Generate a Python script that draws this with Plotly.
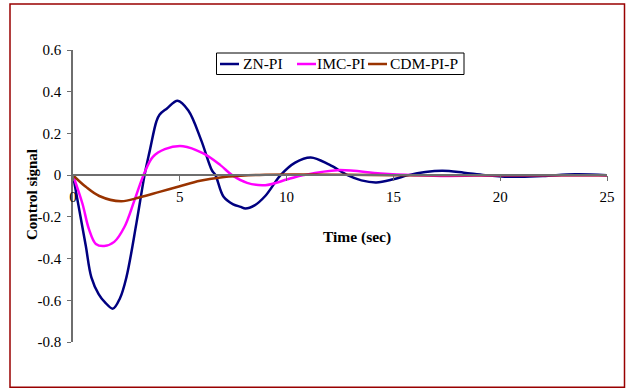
import plotly.graph_objects as go

# ---- data ----
zn_t = [0, 0.3, 0.6, 0.86, 1.2, 1.5, 1.87, 2.2, 2.5, 2.97, 3.35, 3.6, 3.9, 4.05, 4.4, 4.9, 5.4, 6.0, 6.5, 6.67,
        7.05, 7.5, 7.85, 8.07, 8.5, 9.0, 9.72, 10.4, 11.13, 12.0, 12.85, 13.5, 14.2, 15.0, 15.7, 16.5, 17.3,
        18.3, 19.3, 20.6, 22.0, 23.5, 25]
zn_v = [0, -0.17, -0.34, -0.49, -0.57, -0.61, -0.64, -0.59, -0.49, -0.23, 0.0, 0.12, 0.256, 0.29, 0.32, 0.357,
        0.31, 0.168, 0.024, 0.0, -0.104, -0.14, -0.152, -0.16, -0.145, -0.1, 0.0, 0.06, 0.085, 0.05, 0.0,
        -0.025, -0.035, -0.02, 0.0, 0.015, 0.021, 0.012, 0.0, -0.008, -0.004, 0.004, 0.0]

imc_t = [0, 0.44, 0.75, 1.07, 1.46, 1.93, 2.4, 2.88, 3.3, 3.74, 4.3, 5.15, 6.1, 6.9, 7.45, 8.15, 9.0, 10.05,
         10.8, 12.4, 14.4, 16.0, 17.5, 20.0, 25]
imc_v = [0, -0.136, -0.26, -0.33, -0.34, -0.32, -0.25, -0.12, 0.0, 0.088, 0.125, 0.139, 0.104, 0.048, 0.0,
         -0.037, -0.048, -0.02, 0.0, 0.024, 0.008, 0.0, -0.004, 0.0, 0.0]

cdm_t = [0, 0.6, 1.23, 2.25, 3.1, 4.05, 5.0, 5.95, 6.9, 7.85, 9.0, 10.5, 12.5, 15.0, 20.0, 25]
cdm_v = [0, -0.056, -0.1, -0.125, -0.107, -0.08, -0.053, -0.027, -0.011, -0.003, 0.002, 0.003, 0.002, 0.0,
         0.0, 0.0]

names = ["ZN-PI", "IMC-PI", "CDM-PI-P"]
colors = ["#000080", "#ff00ff", "#993300"]
x_ticks = [0, 5, 10, 15, 20, 25]
y_ticks = [-0.8, -0.6, -0.4, -0.2, 0, 0.2, 0.4, 0.6]
y_ticktext = ["-0.8", "-0.6", "-0.4", "-0.2", "0", "0.2", "0.4", "0.6"]

FONT = "Liberation Serif"

# plot-area geometry in pixels
ML, MR, MT, MB = 73, 19, 50, 47
W, H = 626, 389
PW, PH = W - ML - MR, H - MT - MB


def px(xp):
    return (xp - ML) / PW


def py(yp):
    return (H - MB - yp) / PH


fig = go.Figure()
for t, v, n, c in zip([zn_t, imc_t, cdm_t], [zn_v, imc_v, cdm_v], names, colors):
    fig.add_trace(go.Scatter(x=t, y=v, name=n, mode="lines", showlegend=False,
                             line=dict(color=c, width=2.5, shape="spline", smoothing=1.0)))

y0, y1 = -0.8, 0.6
fig.update_layout(
    width=W, height=H,
    margin=dict(l=ML, r=MR, t=MT, b=MB),
    paper_bgcolor="white", plot_bgcolor="white",
    font=dict(family=FONT, size=15, color="black"),
    showlegend=False,
    xaxis=dict(range=[0, 25], tickvals=x_ticks, showgrid=False, zeroline=False,
               showline=True, linecolor="#6e6e6e", linewidth=1.5,
               ticks="outside", ticklen=5, tickcolor="#6e6e6e", tickwidth=1,
               anchor="free", position=(0 - y0) / (y1 - y0),
               tickfont=dict(family=FONT, size=15), ticklabelstandoff=3),
    yaxis=dict(range=[y0, y1], tickvals=y_ticks, ticktext=y_ticktext, showgrid=False,
               zeroline=False, showline=True, linecolor="#6e6e6e", linewidth=1.5,
               ticks="outside", ticklen=4, tickcolor="#6e6e6e", tickwidth=1,
               tickfont=dict(family=FONT, size=15), ticklabelstandoff=3),
)

# axis titles
fig.add_annotation(text="<b>Control signal</b>", x=px(22), y=py(195), xref="paper", yref="paper",
                   textangle=-90, showarrow=False, font=dict(family=FONT, size=15, color="black"))
fig.add_annotation(text="<b>Time (sec)</b>", x=px(357), y=py(237), xref="paper", yref="paper",
                   showarrow=False, font=dict(family=FONT, size=15.5, color="black"))

# legend (drawn by hand to match the compact Excel legend)
fig.add_shape(type="rect", xref="paper", yref="paper",
              x0=px(216.5), x1=px(464), y0=py(74.5), y1=py(53),
              line=dict(color="black", width=1), fillcolor="white", layer="above")
sample_x = [220, 297, 368]
text_x = [241, 315, 388]
for n, c, sx, tx in zip(names, colors, sample_x, text_x):
    fig.add_shape(type="line", xref="paper", yref="paper", x0=px(sx), x1=px(sx + 19),
                  y0=py(64), y1=py(64), line=dict(color=c, width=2.5), layer="above")
    fig.add_annotation(text=n, x=px(tx), y=py(64), xref="paper", yref="paper",
                       xanchor="left", yanchor="middle", showarrow=False,
                       font=dict(family=FONT, size=15.5, color="black"))

# chart border
fig.add_shape(type="rect", xref="paper", yref="paper",
              x0=px(10), x1=px(624.5), y0=py(387.3), y1=py(4),
              line=dict(color="#990000", width=1.5), fillcolor="rgba(0,0,0,0)", layer="below")

fig.write_html("out.html")
